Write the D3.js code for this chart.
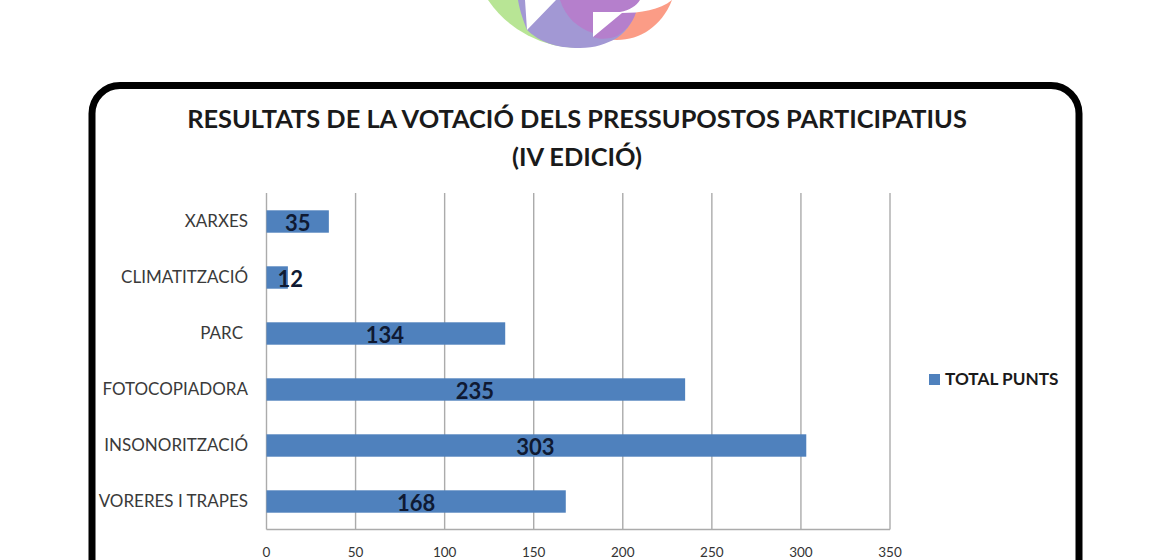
<!DOCTYPE html>
<html><head><meta charset="utf-8">
<script src="https://cdn.jsdelivr.net/npm/d3@7/dist/d3.min.js"></script>
<style>html,body{margin:0;padding:0;background:#fff;overflow:hidden}svg{display:block;font-family:Lato,"Open Sans",sans-serif}</style>
</head><body><svg id="c" width="1160" height="560"></svg>
<script>
const categories = ["XARXES","CLIMATITZACIÓ","PARC ","FOTOCOPIADORA","INSONORITZACIÓ","VORERES I TRAPES"];
const values = [35,12,134,235,303,168];
const xTicks = [0,50,100,150,200,250,300,350];
const titleLines = ["RESULTATS DE LA VOTACIÓ DELS PRESSUPOSTOS PARTICIPATIUS","(IV EDICIÓ)"];
const seriesName = "TOTAL PUNTS";

const svg = d3.select("#c");
// logo
const logo = svg.append("g");
logo.append("path").attr("d","M488,0 A110,110 0 0 0 580,48 L600,30 L560,0Z").attr("fill","#b8e595");
logo.append("path").attr("d","M672,0 C662,26 640,40 617,40 C606,40 600,36 600,30 L630,0Z").attr("fill","#fb9c86");
logo.append("path").attr("d","M518,0 C520,12 524,22 527,30 C540,42 555,48 580,48 C595,48 606,44 617,38 C628,30 634,20 637,8 L637,0Z").attr("fill","#a298d4");
logo.append("path").attr("d","M560,0 C566,18 578,28 593,33 L593,37 C600,40 610,39 617,36 C628,29 634,20 637,9 L640,0Z").attr("fill","#b57fcc");
logo.append("path").attr("d","M525,0 L527,30 L556,0Z M593,12 L593,37 L622,13 C640,13 660,10 672,0 L640,0 C636,6 630,10 620,12Z").attr("fill","#fff");

// frame
svg.append("rect").attr("x",92).attr("y",85.5).attr("width",987).attr("height",560).attr("rx",28).attr("fill","#fff").attr("stroke","#000").attr("stroke-width",7);

// title
svg.append("g").selectAll("text").data(titleLines).join("text")
  .attr("x",577).attr("y",(d,i)=>128+i*38).attr("text-anchor","middle")
  .attr("font-size",25.4).attr("font-weight",700).attr("fill","#1a1a1a").text(d=>d);

const x = d3.scaleLinear().domain([0,350]).range([266.5,890]);
const y = d3.scaleBand().domain(categories).range([193.5,529.5]).paddingInner(0.6).paddingOuter(0.3);

// grid
svg.append("g").selectAll("line").data(xTicks).join("line")
  .attr("x1",d=>x(d)).attr("x2",d=>x(d)).attr("y1",193).attr("y2",529.5)
  .attr("stroke","#ababab").attr("stroke-width",1.4);
svg.append("line").attr("x1",x(0)).attr("x2",x(350)).attr("y1",529.5).attr("y2",529.5).attr("stroke","#ababab").attr("stroke-width",1.4);

// bars
svg.append("g").selectAll("rect").data(values).join("rect")
  .attr("x",x(0)).attr("y",(d,i)=>y(categories[i])).attr("width",d=>x(d)-x(0)).attr("height",y.bandwidth())
  .attr("fill","#4f81bd");

// value labels
svg.append("g").selectAll("text").data(values).join("text")
  .attr("x",d=>x(d/2)).attr("y",(d,i)=>y(categories[i])+y.bandwidth()/2+9)
  .attr("text-anchor","middle").attr("font-size",22).attr("font-weight",700).attr("fill","#0f1a33")
  .attr("dx",(d,i)=>i===1?13:(i===2||i===3||i===4?-1:0)).text(d=>d);

// category labels
svg.append("g").selectAll("text").data(categories).join("text")
  .attr("x",d=>d==="PARC "?243:248).attr("y",d=>y(d)+y.bandwidth()/2+5)
  .attr("text-anchor","end").attr("font-size",17).attr("fill","#3a3a3a").text(d=>d.trim());

// axis tick labels
svg.append("g").selectAll("text").data(xTicks).join("text")
  .attr("x",d=>x(d)).attr("y",556.5).attr("text-anchor","middle").attr("font-size",13.5).attr("fill","#333").text(d=>d);

// legend
svg.append("rect").attr("x",929).attr("y",374).attr("width",11).attr("height",11).attr("fill","#4f81bd");
svg.append("text").attr("x",945).attr("y",385).attr("font-size",17.2).attr("font-weight",700).attr("fill","#1a1a1a").text(seriesName);
</script></body></html>
